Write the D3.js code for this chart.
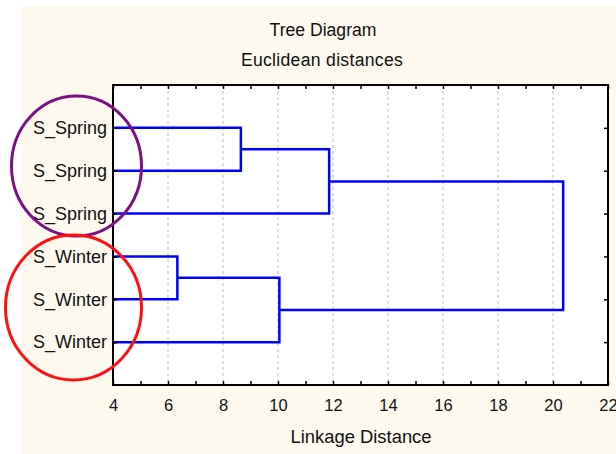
<!DOCTYPE html>
<html>
<head>
<meta charset="utf-8">
<script src="https://cdn.jsdelivr.net/npm/d3@7"></script>
<style>
  body { margin: 0; background: #fff; }
  text { font-family: "Liberation Sans", Arial, sans-serif; fill: #111; }
</style>
</head>
<body>
<svg id="chart"></svg>
<script>
// leaves, top to bottom
const leafLabels = ["S_Spring", "S_Spring", "S_Spring", "S_Winter", "S_Winter", "S_Winter"];
// merges: node ids 0-5 are leaves, merges get ids 6, 7, ...
const mergeLeft = [0, 6, 3, 8, 7];
const mergeRight = [1, 2, 4, 5, 9];
const mergeHeight = [8.65, 11.86, 6.34, 10.05, 20.37];
const xTicks = [4, 6, 8, 10, 12, 14, 16, 18, 20, 22];
const xMinorTicks = [5, 7, 9, 11, 13, 15, 17, 19, 21];

const width = 616, height = 454;
const plotL = 113, plotR = 608, plotT = 85, plotB = 385;

const svg = d3.select("#chart").attr("width", width).attr("height", height);

// beige panel
svg.append("rect")
  .attr("x", 21).attr("y", 6)
  .attr("width", width - 21).attr("height", height - 6)
  .attr("fill", "#fdf9ef");

svg.append("rect")
  .attr("x", plotL).attr("y", plotT)
  .attr("width", plotR - plotL).attr("height", plotB - plotT)
  .attr("fill", "#fff");

const x = d3.scaleLinear().domain([4, 22]).range([plotL, plotR]).clamp(true);
const y = d3.scalePoint().domain(d3.range(leafLabels.length)).range([plotT, plotB]).padding(1);

// gridlines
svg.append("g")
  .selectAll("line")
  .data(xTicks.slice(1, -1))
  .join("line")
  .attr("x1", d => x(d)).attr("x2", d => x(d))
  .attr("y1", plotT).attr("y2", plotB)
  .attr("stroke", "#bdbdbd")
  .attr("stroke-width", 1)
  .attr("stroke-dasharray", "3,3");

// node positions
const nodeY = leafLabels.map((d, i) => y(i));
const nodeH = leafLabels.map(() => 0);
mergeHeight.forEach((h, i) => {
  nodeY.push((nodeY[mergeLeft[i]] + nodeY[mergeRight[i]]) / 2);
  nodeH.push(h);
});

svg.append("g")
  .selectAll("path")
  .data(mergeHeight.map((h, i) => ({ h: h, a: mergeLeft[i], b: mergeRight[i] })))
  .join("path")
  .attr("d", d => "M" + x(nodeH[d.a]) + "," + nodeY[d.a] +
    "H" + x(d.h) + "V" + nodeY[d.b] + "H" + x(nodeH[d.b]))
  .attr("fill", "none")
  .attr("stroke", "#0000ff")
  .attr("stroke-width", 2.5);

// axes
const fontTick = "16.5px";
const bottomAxis = svg.append("g")
  .attr("transform", "translate(0," + plotB + ")")
  .call(d3.axisBottom(x).tickValues(xTicks).tickSizeInner(-4).tickSizeOuter(0).tickPadding(14));
bottomAxis.selectAll("text").attr("font-size", fontTick).attr("font-family", "Liberation Sans, Arial, sans-serif").attr("fill", "#111");

svg.append("g")
  .attr("transform", "translate(0," + plotB + ")")
  .call(d3.axisBottom(x).tickValues(xMinorTicks).tickSizeInner(-4).tickSizeOuter(0).tickFormat(""));

svg.append("g")
  .attr("transform", "translate(0," + plotT + ")")
  .call(d3.axisTop(x).tickValues(xTicks.concat(xMinorTicks)).tickSizeInner(-4).tickSizeOuter(0).tickFormat(""));

const leftAxis = svg.append("g")
  .attr("transform", "translate(" + plotL + ",0)")
  .call(d3.axisLeft(y).tickSizeInner(-4).tickSizeOuter(0).tickPadding(6).tickFormat(i => leafLabels[i]));
leftAxis.selectAll("text").attr("font-size", "18px").attr("font-family", "Liberation Sans, Arial, sans-serif").attr("fill", "#111");

svg.append("g")
  .attr("transform", "translate(" + plotR + ",0)")
  .call(d3.axisRight(y).tickSizeInner(-4).tickSizeOuter(0).tickFormat(""));

svg.selectAll(".domain").remove();
svg.selectAll(".tick line").attr("stroke", "#000").attr("stroke-width", 1.5);

// frame
svg.append("rect")
  .attr("x", plotL).attr("y", plotT)
  .attr("width", plotR - plotL).attr("height", plotB - plotT)
  .attr("fill", "none")
  .attr("stroke", "#000")
  .attr("stroke-width", 2);

// titles
svg.append("text").attr("x", 323).attr("y", 36).attr("text-anchor", "middle")
  .attr("font-size", "17.6px").text("Tree Diagram");
svg.append("text").attr("x", 322).attr("y", 66).attr("text-anchor", "middle")
  .attr("font-size", "17.6px").attr("letter-spacing", "0.3px").text("Euclidean distances");
svg.append("text").attr("x", 361).attr("y", 443).attr("text-anchor", "middle")
  .attr("font-size", "18.4px").text("Linkage Distance");

// highlight ellipses
svg.append("ellipse")
  .attr("cx", 76.5).attr("cy", 166).attr("rx", 65).attr("ry", 70)
  .attr("fill", "none").attr("stroke", "#7b1185").attr("stroke-width", 3);
svg.append("ellipse")
  .attr("cx", 73.5).attr("cy", 307.5).attr("rx", 68).attr("ry", 72.5)
  .attr("fill", "none").attr("stroke", "#ff1010").attr("stroke-width", 3);
</script>
</body>
</html>
